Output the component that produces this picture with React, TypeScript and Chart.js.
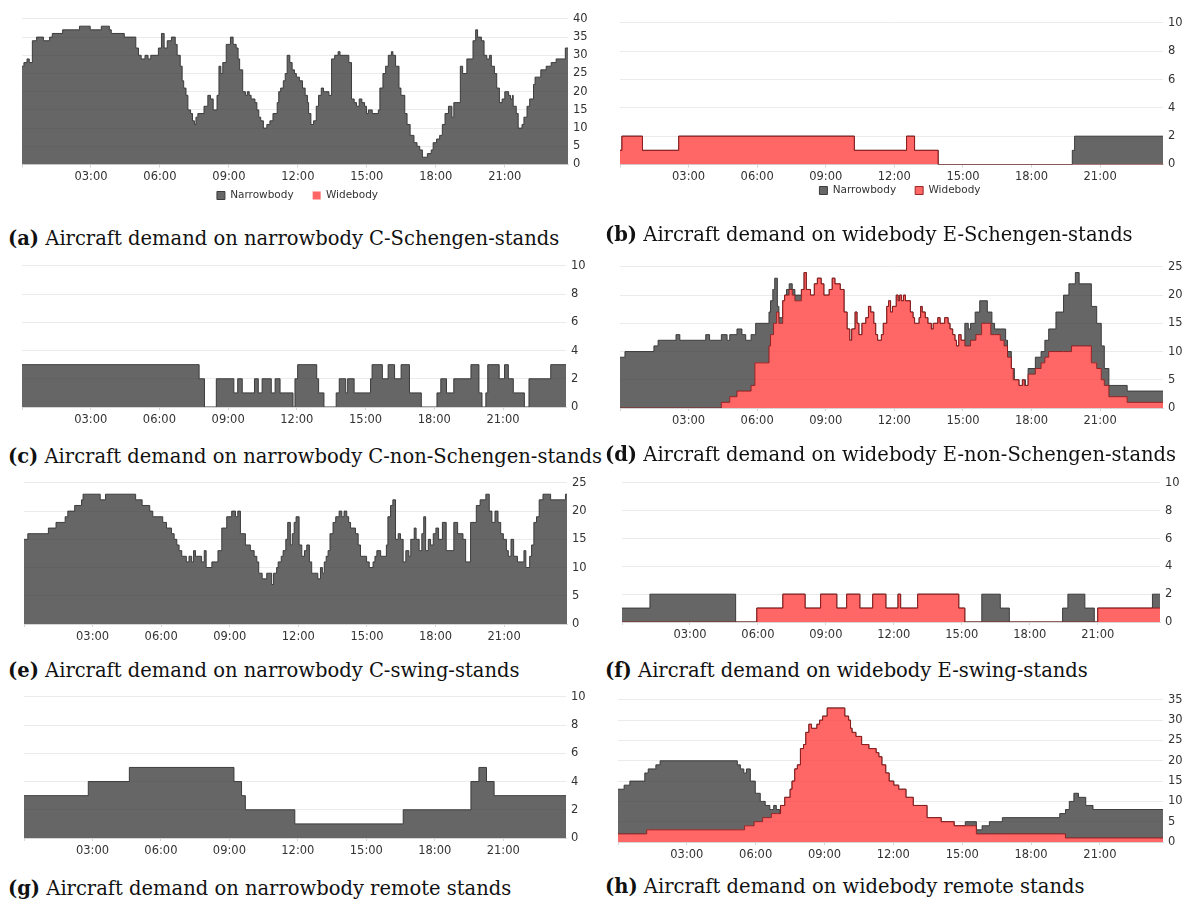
import React, { useEffect, useRef } from "react";
import { Chart, registerables } from "chart.js";

Chart.register(...registerables);

// Step series: [minute of day, aircraft on stand]; each value holds until the next entry.
type Steps = [number, number][];

const DAY_END = 1425; // 23:45
const tickMinutes = [0, 180, 360, 540, 720, 900, 1080, 1260];
const tickLabels = ["", "03:00", "06:00", "09:00", "12:00", "15:00", "18:00", "21:00"];

// (a) narrowbody C-Schengen stands
const cSchengenNarrow: Steps = [
  [0, 27], [5, 28], [13, 29], [19, 28], [27, 34], [38, 35], [56, 34], [72, 35], [79, 36], [106, 37],
  [150, 38], [178, 37], [207, 38], [228, 37], [233, 36], [267, 35], [297, 32], [304, 30], [311, 29],
  [321, 30], [329, 29], [336, 30], [356, 32], [364, 36], [371, 32], [379, 34], [390, 35], [400, 33],
  [405, 30], [413, 27], [418, 23], [422, 21], [428, 19], [433, 15], [440, 14], [445, 12], [450, 11],
  [454, 13], [459, 14], [475, 16], [485, 19], [492, 18], [499, 15], [509, 19], [514, 27], [519, 25],
  [524, 28], [533, 33], [544, 35], [551, 33], [559, 32], [564, 29], [568, 26], [576, 20], [583, 19],
  [588, 20], [593, 19], [598, 18], [608, 17], [613, 15], [618, 13], [623, 12], [630, 10], [639, 11],
  [647, 12], [655, 14], [666, 17], [670, 20], [675, 21], [682, 23], [687, 25], [692, 30], [699, 28],
  [705, 26], [711, 25], [716, 24], [724, 23], [732, 21], [739, 19], [745, 17], [748, 14], [754, 11],
  [761, 12], [768, 16], [774, 19], [781, 21], [787, 20], [801, 19], [808, 29], [816, 30], [825, 31],
  [830, 30], [853, 28], [860, 18], [867, 17], [873, 16], [880, 18], [887, 17], [894, 16], [899, 14],
  [904, 15], [914, 14], [930, 15], [934, 21], [942, 25], [949, 27], [956, 30], [964, 31], [968, 30],
  [975, 27], [984, 21], [989, 19], [999, 14], [1005, 11], [1013, 8], [1023, 6], [1031, 5], [1038, 4],
  [1045, 2], [1058, 3], [1068, 4], [1073, 6], [1082, 7], [1090, 8], [1097, 11], [1104, 14], [1113, 16],
  [1122, 13], [1127, 17], [1144, 27], [1150, 25], [1161, 29], [1177, 34], [1184, 37], [1189, 35],
  [1199, 34], [1206, 30], [1213, 29], [1220, 30], [1225, 27], [1233, 25], [1239, 21], [1246, 17],
  [1253, 18], [1260, 20], [1270, 19], [1275, 18], [1280, 19], [1282, 16], [1290, 14], [1295, 10],
  [1305, 11], [1310, 13], [1318, 16], [1325, 18], [1335, 22], [1339, 24], [1354, 26], [1368, 27],
  [1381, 28], [1394, 29], [1418, 32],
];
const cSchengenWide: Steps = [[0, 0]];

// (b) widebody E-Schengen stands
const eSchengenNarrow: Steps = [[0, 0], [1187, 1], [1193, 2]];
const eSchengenWide: Steps = [
  [0, 1], [5, 2], [59, 1], [154, 2], [615, 1], [752, 2], [773, 1], [835, 0],
];

// (c) narrowbody C-non-Schengen stands
const cNonSchengenNarrow: Steps = [
  [0, 3], [464, 2], [478, 0], [509, 2], [555, 1], [565, 2], [577, 1], [609, 2], [619, 1], [629, 2],
  [653, 1], [663, 2], [676, 1], [710, 0], [715, 2], [722, 3], [772, 2], [777, 1], [791, 0], [823, 1],
  [831, 2], [848, 1], [853, 2], [870, 1], [913, 2], [917, 3], [944, 2], [959, 3], [976, 2], [993, 3],
  [1015, 1], [1046, 0], [1087, 1], [1097, 2], [1112, 1], [1131, 2], [1176, 3], [1197, 1], [1205, 0],
  [1215, 1], [1220, 3], [1250, 2], [1264, 3], [1274, 2], [1287, 1], [1316, 0], [1328, 2], [1385, 3],
];
const cNonSchengenWide: Steps = [[0, 0]];

// (d) widebody E-non-Schengen stands
const eNonSchengenNarrow: Steps = [
  [0, 9], [13, 10], [89, 11], [100, 12], [147, 13], [157, 12], [225, 13], [235, 12], [281, 11],
  [320, 10], [330, 9], [354, 5], [356, 7], [391, 6], [401, 8], [403, 6], [406, 8], [411, 6], [413, 1],
  [427, 0], [437, 1], [476, 0], [905, 4], [914, 3], [932, 5], [934, 4], [944, 6], [949, 4], [964, 2],
  [973, 4], [976, 2], [983, 1], [998, 2], [1008, 3], [1012, 1], [1027, 0], [1032, 2], [1035, 0],
  [1061, 1], [1064, 0], [1071, 1], [1090, 2], [1115, 3], [1125, 4], [1144, 7], [1164, 10], [1178, 12],
  [1185, 11], [1195, 13], [1205, 11], [1237, 10], [1251, 8], [1263, 6], [1271, 3], [1283, 2],
];
const eNonSchengenWide: Steps = [
  [0, 0], [266, 1], [288, 2], [307, 3], [344, 4], [354, 8], [391, 11], [395, 13], [403, 15], [411, 17],
  [417, 15], [427, 19], [432, 20], [444, 21], [452, 20], [459, 19], [476, 21], [483, 24], [489, 21],
  [500, 20], [510, 22], [518, 23], [528, 22], [535, 20], [549, 21], [557, 23], [564, 22], [578, 21],
  [588, 17], [596, 14], [603, 12], [608, 14], [617, 17], [622, 15], [627, 13], [635, 15], [645, 16],
  [652, 18], [658, 17], [666, 15], [671, 13], [676, 12], [686, 13], [691, 15], [700, 18], [705, 19],
  [710, 17], [715, 18], [725, 20], [730, 19], [734, 20], [739, 19], [744, 20], [749, 19], [762, 17],
  [769, 16], [773, 15], [785, 16], [789, 18], [793, 17], [801, 16], [808, 15], [817, 14], [822, 15],
  [834, 16], [840, 15], [852, 16], [861, 15], [866, 14], [873, 13], [879, 12], [883, 11], [889, 13],
  [895, 12], [905, 11], [920, 12], [934, 13], [949, 15], [973, 13], [998, 12], [1008, 11], [1017, 9],
  [1027, 7], [1032, 5], [1047, 4], [1056, 5], [1061, 4], [1071, 6], [1090, 7], [1105, 8], [1115, 9],
  [1125, 10], [1185, 11], [1237, 8], [1251, 7], [1263, 5], [1271, 4], [1283, 2], [1331, 1],
];

// (e) narrowbody C-swing stands
const cSwingNarrow: Steps = [
  [0, 15], [10, 16], [64, 17], [84, 18], [108, 19], [115, 20], [133, 21], [151, 22], [155, 23], [200, 22],
  [214, 23], [293, 22], [310, 21], [330, 20], [338, 19], [364, 18], [374, 17], [387, 16], [394, 15],
  [401, 14], [407, 13], [414, 12], [426, 11], [433, 12], [440, 11], [445, 13], [450, 12], [466, 11],
  [473, 13], [478, 10], [493, 11], [509, 13], [519, 17], [532, 19], [545, 20], [555, 19], [561, 20],
  [568, 16], [581, 14], [594, 13], [604, 12], [611, 11], [616, 9], [625, 8], [637, 9], [650, 7],
  [655, 9], [663, 10], [667, 11], [675, 12], [680, 13], [687, 15], [692, 18], [699, 14], [704, 16],
  [709, 18], [714, 19], [722, 14], [729, 12], [736, 13], [742, 14], [749, 11], [755, 9], [771, 8],
  [778, 10], [783, 9], [788, 11], [793, 12], [798, 13], [803, 16], [811, 18], [818, 19], [827, 20],
  [834, 19], [840, 20], [847, 19], [852, 18], [857, 17], [870, 16], [877, 14], [883, 12], [899, 11],
  [906, 10], [916, 11], [921, 12], [926, 13], [936, 12], [951, 14], [955, 19], [962, 21], [968, 22],
  [975, 15], [982, 16], [988, 15], [995, 11], [1002, 13], [1010, 12], [1015, 15], [1024, 17], [1029, 15],
  [1037, 13], [1044, 16], [1049, 19], [1054, 13], [1061, 15], [1067, 14], [1074, 16], [1081, 17],
  [1088, 15], [1098, 18], [1108, 13], [1128, 18], [1138, 16], [1152, 15], [1159, 11], [1172, 18],
  [1187, 21], [1197, 22], [1212, 23], [1221, 20], [1228, 18], [1236, 20], [1244, 18], [1251, 16],
  [1258, 15], [1266, 13], [1271, 12], [1278, 15], [1285, 12], [1295, 11], [1312, 13], [1317, 10],
  [1327, 12], [1332, 14], [1338, 18], [1345, 19], [1352, 22], [1362, 23], [1382, 22], [1421, 23],
];
const cSwingWide: Steps = [[0, 0]];

// (f) widebody E-swing stands
const eSwingNarrow: Steps = [
  [0, 1], [74, 2], [301, 0], [953, 2], [1002, 1], [1026, 0], [1167, 1], [1181, 2], [1226, 1], [1251, 0],
  [1405, 1],
];
const eSwingWide: Steps = [
  [0, 0], [357, 1], [426, 2], [485, 1], [526, 2], [569, 1], [595, 2], [630, 1], [664, 2], [699, 1],
  [731, 2], [738, 1], [783, 2], [892, 1], [908, 0], [1260, 1],
];

// (g) narrowbody remote stands
const remoteNarrow: Steps = [
  [0, 3], [169, 4], [277, 5], [552, 4], [572, 3], [582, 2], [712, 1], [997, 2], [1175, 4], [1196, 5],
  [1216, 4], [1236, 3],
];
const remoteNarrowWide: Steps = [[0, 0]];

// (h) widebody remote stands
const remoteWideNarrow: Steps = [
  [0, 11], [16, 12], [31, 13], [70, 15], [75, 14], [79, 15], [99, 16], [110, 17], [312, 16], [320, 15],
  [329, 14], [331, 13], [336, 14], [346, 11], [356, 10], [359, 7], [372, 5], [378, 4], [385, 3],
  [397, 2], [401, 1], [407, 2], [414, 1], [423, 0], [908, 1], [952, 2], [971, 3], [1005, 4], [1155, 5],
  [1170, 7], [1180, 9], [1192, 11], [1204, 10], [1223, 8], [1242, 7],
];
const remoteWide: Steps = [
  [0, 2], [75, 3], [331, 4], [356, 5], [378, 6], [401, 7], [425, 9], [436, 11], [450, 13], [455, 15],
  [462, 18], [469, 19], [477, 23], [485, 24], [491, 27], [499, 29], [506, 28], [520, 29], [527, 30],
  [535, 31], [547, 33], [593, 31], [603, 30], [608, 28], [612, 27], [622, 26], [637, 24], [656, 23],
  [675, 22], [682, 21], [690, 19], [700, 17], [709, 15], [721, 14], [734, 13], [753, 11], [772, 9],
  [808, 6], [845, 5], [879, 4], [937, 2], [1170, 1],
];

const GREY_FILL = "rgba(51,51,51,0.75)";
const GREY_LINE = "rgba(55,55,55,0.95)";
const RED_FILL = "rgba(255,51,51,0.75)";
const RED_LINE = "rgba(140,25,25,0.9)";
const TICK_FONT = { family: "'DejaVu Sans', sans-serif", size: 11.5 };
const LEGEND_FONT = { family: "'DejaVu Sans', sans-serif", size: 10.5 };

interface PanelSpec {
  letter: string;
  title: string;
  narrow: Steps;
  wide: Steps;
  yMax: number;
  yStep: number;
  legend: null | { offset: number; spread: number };
  plot: { left: number; top: number; right: number; bottom: number };
  caption: { left: number; middle: number };
}

const panels: PanelSpec[] = [
  { letter: "(a)", title: "Aircraft demand on narrowbody C-Schengen-stands", narrow: cSchengenNarrow, wide: cSchengenWide, yMax: 40, yStep: 5, legend: { offset: 31, spread: 5 }, plot: { left: 22, top: 17, right: 568, bottom: 164 }, caption: { left: 8, middle: 239 } },
  { letter: "(b)", title: "Aircraft demand on widebody E-Schengen-stands", narrow: eSchengenNarrow, wide: eSchengenWide, yMax: 10, yStep: 2, legend: { offset: 26, spread: 17 }, plot: { left: 620, top: 21, right: 1163, bottom: 164 }, caption: { left: 605, middle: 235 } },
  { letter: "(c)", title: "Aircraft demand on narrowbody C-non-Schengen-stands", narrow: cNonSchengenNarrow, wide: cNonSchengenWide, yMax: 10, yStep: 2, legend: null, plot: { left: 22, top: 264, right: 566, bottom: 407 }, caption: { left: 8, middle: 457 } },
  { letter: "(d)", title: "Aircraft demand on widebody E-non-Schengen-stands", narrow: eNonSchengenNarrow, wide: eNonSchengenWide, yMax: 25, yStep: 5, legend: null, plot: { left: 620, top: 265, right: 1163, bottom: 408 }, caption: { left: 605, middle: 455 } },
  { letter: "(e)", title: "Aircraft demand on narrowbody C-swing-stands", narrow: cSwingNarrow, wide: cSwingWide, yMax: 25, yStep: 5, legend: null, plot: { left: 24, top: 481, right: 567, bottom: 624 }, caption: { left: 8, middle: 671 } },
  { letter: "(f)", title: "Aircraft demand on widebody E-swing-stands", narrow: eSwingNarrow, wide: eSwingWide, yMax: 10, yStep: 2, legend: null, plot: { left: 622, top: 481, right: 1160, bottom: 622 }, caption: { left: 605, middle: 671 } },
  { letter: "(g)", title: "Aircraft demand on narrowbody remote stands", narrow: remoteNarrow, wide: remoteNarrowWide, yMax: 10, yStep: 2, legend: null, plot: { left: 24, top: 695, right: 566, bottom: 838 }, caption: { left: 8, middle: 889 } },
  { letter: "(h)", title: "Aircraft demand on widebody remote stands", narrow: remoteWideNarrow, wide: remoteWide, yMax: 35, yStep: 5, legend: null, plot: { left: 618, top: 698, right: 1163, bottom: 842 }, caption: { left: 605, middle: 887 } },
];

function stepAt(steps: Steps, t: number): number {
  let v = 0;
  for (const [time, value] of steps) {
    if (time <= t) v = value;
    else break;
  }
  return v;
}

// Both series share one x grid so the stacked areas line up.
function sharedGrid(...series: Steps[]): number[] {
  const xs = new Set<number>([DAY_END]);
  series.forEach((s) => s.forEach(([t]) => xs.add(t)));
  return Array.from(xs).sort((a, b) => a - b);
}

const PAD_L = 4;
const PAD_T = 10;
const Y_W = 30;
const X_H = 20;
const LEG_PAD = 19;

function DemandChart({ spec }: { spec: PanelSpec }) {
  const ref = useRef<HTMLCanvasElement | null>(null);
  // legend box height as Chart.js fits it: item height + padding + 10
  const legH = spec.legend ? LEGEND_FONT.size + LEG_PAD + 10 : 0;
  const width = spec.plot.right - spec.plot.left + PAD_L + Y_W;
  const height = Math.round(spec.plot.bottom - spec.plot.top + PAD_T + X_H + legH);

  useEffect(() => {
    if (!ref.current) return;
    const grid = sharedGrid(spec.narrow, spec.wide);
    const hasWide = spec.wide.some(([, v]) => v > 0);
    // place the legend row under the plot area
    const legendUnderPlot = {
      id: "legendUnderPlot",
      afterLayout(chart: any) {
        const lg = chart.legend;
        if (lg && spec.legend) {
          const h = lg.bottom - lg.top;
          lg.left = chart.chartArea.left;
          lg.right = chart.chartArea.right + spec.legend.spread;
          lg.top = chart.chartArea.bottom + spec.legend.offset - LEG_PAD - LEGEND_FONT.size / 2;
          lg.bottom = lg.top + h;
        }
      },
    };
    const chart = new Chart(ref.current, {
      type: "line",
      data: {
        datasets: [
          {
            label: "Widebody",
            data: grid.map((t) => ({ x: t, y: stepAt(spec.wide, t) })),
            stepped: true,
            fill: "origin",
            backgroundColor: RED_FILL,
            borderColor: hasWide ? RED_LINE : "rgba(0,0,0,0)",
            borderWidth: 1,
            pointRadius: 0,
          },
          {
            label: "Narrowbody",
            data: grid.map((t) => ({ x: t, y: stepAt(spec.narrow, t) })),
            stepped: true,
            fill: "-1",
            backgroundColor: GREY_FILL,
            borderColor: GREY_LINE,
            borderWidth: 1,
            pointRadius: 0,
          },
        ],
      },
      plugins: [legendUnderPlot],
      options: {
        animation: false,
        responsive: false,
        maintainAspectRatio: false,
        devicePixelRatio: 1,
        layout: { padding: { left: PAD_L, top: PAD_T, right: 0, bottom: 0 } },
        plugins: {
          tooltip: { enabled: false },
          legend: {
            display: !!spec.legend,
            position: "bottom",
            labels: {
              boxWidth: 8,
              boxHeight: 8,
              padding: LEG_PAD,
              color: "#333",
              font: LEGEND_FONT,
              sort: (a: any, b: any) => b.datasetIndex - a.datasetIndex,
            },
          },
        },
        scales: {
          x: {
            type: "linear",
            min: 0,
            max: DAY_END,
            afterBuildTicks: (scale: any) => {
              scale.ticks = tickMinutes.map((v) => ({ value: v }));
            },
            afterFit: (scale: any) => {
              scale.height = X_H;
            },
            ticks: {
              autoSkip: false,
              maxRotation: 0,
              padding: 3,
              color: "#333",
              font: TICK_FONT,
              callback: (v: any) => {
                const i = tickMinutes.indexOf(Number(v));
                return i >= 0 ? tickLabels[i] : "";
              },
            },
            grid: { drawOnChartArea: false, tickLength: 3, color: "#d6d6d6" },
            border: { display: true, color: "#d6d6d6" },
          },
          y: {
            position: "right",
            stacked: true,
            min: 0,
            max: spec.yMax,
            afterFit: (scale: any) => {
              scale.width = Y_W;
            },
            ticks: { stepSize: spec.yStep, padding: 5, color: "#333", font: TICK_FONT },
            grid: { color: "#ebebeb", drawTicks: false },
            border: { display: false },
          },
        },
      },
    });
    return () => chart.destroy();
  }, [spec]);

  return (
    <div
      style={{
        position: "absolute",
        left: spec.plot.left - PAD_L,
        top: spec.plot.top - PAD_T,
        width,
        height,
      }}
    >
      <canvas ref={ref} width={width} height={height} style={{ width, height, display: "block" }} />
    </div>
  );
}

function Caption({ spec }: { spec: PanelSpec }) {
  return (
    <div
      style={{
        position: "absolute",
        left: spec.caption.left,
        top: spec.caption.middle - 12,
        height: 24,
        lineHeight: "24px",
        fontFamily: "'DejaVu Serif', serif",
        fontSize: 19.5,
        color: "#111",
        whiteSpace: "nowrap",
      }}
    >
      <b>{spec.letter}</b> {spec.title}
    </div>
  );
}

export default function App() {
  return (
    <div
      style={{
        position: "absolute",
        left: 0,
        top: 0,
        width: 1182,
        height: 899,
        background: "#fff",
        overflow: "hidden",
      }}
    >
      {panels.map((p) => (
        <React.Fragment key={p.letter}>
          <DemandChart spec={p} />
          <Caption spec={p} />
        </React.Fragment>
      ))}
    </div>
  );
}
